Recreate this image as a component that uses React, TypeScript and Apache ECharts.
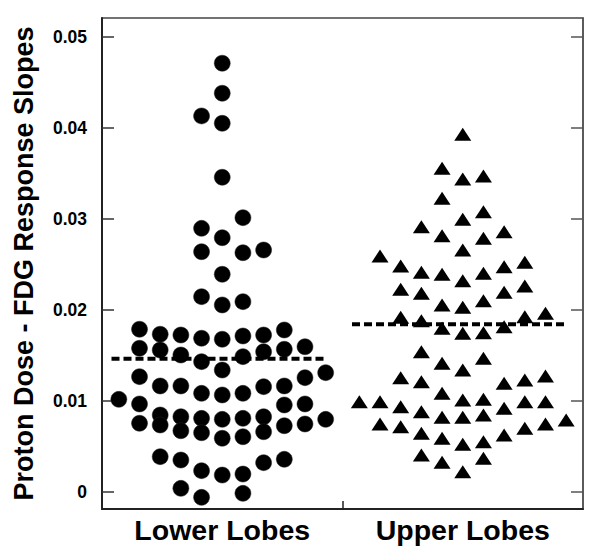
import React, { useEffect, useRef } from "react";
import * as echarts from "echarts";

const categories = ["Lower Lobes", "Upper Lobes"];
const yTicks = [0, 0.01, 0.02, 0.03, 0.04, 0.05];
const meanValues = [0.0146, 0.0184];
const yTitle = "Proton Dose - FDG Response Slopes";

// [swarm column, slope value]
const lowerLobes: [number, number][] = [
  [0, 0.04708], [0, 0.04378], [-1, 0.04129], [0, 0.04048], [0, 0.03455],
  [1, 0.03011], [-1, 0.02894], [0, 0.02791], [-1, 0.02637], [1, 0.02626],
  [2, 0.02656], [0, 0.02389], [-1, 0.02143], [0, 0.02052], [1, 0.02088],
  [-4, 0.01785], [-3, 0.0173], [-2, 0.01722], [-1, 0.01686], [0, 0.01675],
  [1, 0.01711], [2, 0.01722], [3, 0.01777],
  [-4, 0.01576], [-3, 0.01557], [-2, 0.01502], [-1, 0.01429], [0, 0.01337],
  [1, 0.01484], [2, 0.01538], [3, 0.01565], [4, 0.01593],
  [5, 0.01308], [4, 0.01253], [-4, 0.01264], [-3, 0.01162], [-2, 0.01162],
  [-1, 0.01081], [0, 0.01063], [1, 0.01081], [2, 0.01154], [3, 0.01162],
  [-5, 0.01015], [-4, 0.00964], [3, 0.00953], [4, 0.00964],
  [-4, 0.00752], [-3, 0.00843], [-3, 0.00733], [-2, 0.00824], [-2, 0.0067],
  [-1, 0.00806], [-1, 0.00648], [0, 0.00795], [0, 0.00587], [1, 0.00806],
  [1, 0.00604], [2, 0.00824], [2, 0.00659], [3, 0.00725], [4, 0.00744],
  [5, 0.00795],
  [-3, 0.00385], [-2, 0.00348], [-1, 0.00231], [0, 0.00183], [1, 0.00194],
  [2, 0.00319], [3, 0.00356], [-2, 0.00037], [-1, -0.00062], [1, -0.00018],
];

const upperLobes: [number, number][] = [
  [0, 0.03927], [-1, 0.03554], [0, 0.03436], [1, 0.03469], [-1, 0.03224],
  [1, 0.03077], [0, 0.02993], [-2, 0.02912], [-1, 0.02813], [1, 0.02785],
  [2, 0.02857], [0, 0.02656], [-4, 0.0259], [-3, 0.0248], [-2, 0.02411],
  [-1, 0.02389], [0, 0.02319], [1, 0.024], [2, 0.02473], [3, 0.02521],
  [-3, 0.02224], [-2, 0.0218], [-1, 0.02052], [0, 0.02026], [1, 0.02099],
  [2, 0.02191], [3, 0.0226], [-3, 0.01916], [-2, 0.01879], [3, 0.01923],
  [4, 0.0196], [-1, 0.01795], [0, 0.0174], [1, 0.01747], [2, 0.01813],
  [-2, 0.01538], [-1, 0.01411], [1, 0.01466], [0, 0.01337], [-3, 0.01253],
  [-2, 0.01209], [2, 0.01191], [3, 0.01228], [4, 0.01271], [-1, 0.01081],
  [-5, 0.00989], [-4, 0.00989], [-3, 0.00934], [-2, 0.00879], [0, 0.01008],
  [1, 0.01015], [2, 0.00916], [3, 0.00989], [4, 0.00989], [-1, 0.00818],
  [0, 0.00818], [1, 0.00843], [-4, 0.00744], [-3, 0.00714], [-2, 0.00642],
  [-1, 0.00587], [0, 0.00521], [1, 0.0055], [2, 0.00623], [3, 0.00697],
  [4, 0.00744], [5, 0.00788], [-2, 0.00403], [-1, 0.00323], [1, 0.00367],
  [0, 0.0022],
];

const GROUP_CENTERS = [0.5, 1.5];
const COL_STEP = 0.086;
const MEAN_HALF = 0.4435;
const MEAN_SHIFT = -0.017;

const FONT = "'Liberation Sans', Arial, sans-serif";

export default function App() {
  const ref = useRef<HTMLDivElement>(null);
  useEffect(() => {
    if (!ref.current) return;
    const chart = echarts.init(ref.current, undefined, { renderer: "svg" });
    const toXY = (pts: [number, number][], g: number) =>
      pts.map(([c, v]) => [GROUP_CENTERS[g] + c * COL_STEP, v]);
    const meanLine = (g: number) => {
      const cx = GROUP_CENTERS[g] + MEAN_SHIFT;
      return [
        [cx - MEAN_HALF, meanValues[g]],
        [cx + MEAN_HALF, meanValues[g]],
      ];
    };
    const yMin = -0.0019;
    const yMax = 0.05205;
    chart.setOption({
      animation: false,
      backgroundColor: "#fff",
      grid: {
        left: 102,
        right: 17,
        top: 18,
        bottom: 47,
        show: true,
        borderColor: "#444",
        borderWidth: 1.5,
        containLabel: false,
      },
      xAxis: {
        type: "value",
        min: 0,
        max: 2,
        axisLine: { show: true, onZero: false, lineStyle: { color: "#222", width: 2 } },
        axisTick: {
          show: true,
          inside: true,
          length: 8,
          customValues: [1],
          lineStyle: { color: "#222", width: 1.5 },
        },
        axisLabel: {
          show: true,
          customValues: GROUP_CENTERS,
          formatter: (v: number) => (v < 1 ? categories[0] : categories[1]),
          color: "#000",
          fontFamily: FONT,
          fontWeight: 900,
          fontSize: 28.5,
          margin: 6,
        },
        splitLine: { show: false },
      },
      yAxis: [
        {
          type: "value",
          min: yMin,
          max: yMax,
          name: yTitle,
          nameLocation: "middle",
          nameGap: 65,
          nameRotate: 90,
          nameTextStyle: {
            color: "#000",
            fontFamily: FONT,
            fontWeight: 900,
            fontSize: 27,
          },
          axisLine: { show: true, onZero: false, lineStyle: { color: "#222", width: 2 } },
          axisTick: {
            show: true,
            inside: true,
            length: 12,
            customValues: yTicks,
            lineStyle: { color: "#333", width: 1.5 },
          },
          axisLabel: {
            show: true,
            customValues: yTicks,
            formatter: (v: number) => (v === 0 ? "0" : v.toFixed(2)),
            color: "#000",
            fontFamily: FONT,
            fontWeight: 900,
            fontSize: 17.5,
            margin: 15,
          },
          splitLine: { show: false },
        },
        {
          type: "value",
          position: "right",
          min: yMin,
          max: yMax,
          axisLine: { show: true, onZero: false, lineStyle: { color: "#555", width: 1.5 } },
          axisTick: {
            show: true,
            inside: true,
            length: 12,
            customValues: yTicks,
            lineStyle: { color: "#555", width: 1.5 },
          },
          axisLabel: { show: false },
          splitLine: { show: false },
        },
      ],
      series: [
        {
          type: "scatter",
          name: categories[0],
          data: toXY(lowerLobes, 0),
          symbol: "circle",
          symbolSize: 16,
          itemStyle: { color: "#000", opacity: 1, borderColor: "#222", borderWidth: 0.5 },
          z: 3,
        },
        {
          type: "scatter",
          name: categories[1],
          data: toXY(upperLobes, 1),
          symbol: "triangle",
          symbolSize: [17, 13],
          itemStyle: { color: "#000", opacity: 1 },
          z: 3,
        },
        {
          type: "line",
          data: meanLine(0),
          symbol: "none",
          lineStyle: { color: "#000", width: 4, type: [8, 4] },
          z: 4,
        },
        {
          type: "line",
          data: meanLine(1),
          symbol: "none",
          lineStyle: { color: "#000", width: 4, type: [8, 4] },
          z: 4,
        },
      ],
    });
    return () => chart.dispose();
  }, []);
  return (
    <div
      ref={ref}
      style={{ position: "fixed", left: 0, top: 0, width: 600, height: 556, background: "#fff" }}
    />
  );
}
